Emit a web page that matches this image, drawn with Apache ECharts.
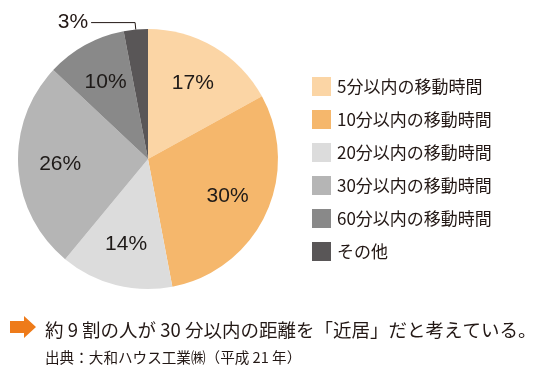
<!DOCTYPE html>
<html>
<head>
<meta charset="utf-8">
<script src="https://cdn.jsdelivr.net/npm/echarts@6/dist/echarts.min.js"></script>
<style>
html,body{margin:0;padding:0;background:#fff;}
#c{width:540px;height:380px;}
</style>
</head>
<body>
<div id="c"></div>
<script>
const categories = ['5分以内の移動時間','10分以内の移動時間','20分以内の移動時間','30分以内の移動時間','60分以内の移動時間','その他'];
const shares = [17, 30, 14, 26, 10, 3];
const sliceColors = ['#fbd5a5','#f5b76c','#dcdcdc','#b5b5b5','#898989','#595657'];
const headline = '約 9 割の人が 30 分以内の距離を「近居」だと考えている。';
const sourceNote = '出典：大和ハウス工業㈱（平成 21 年）';

const FONT = '"Noto Sans CJK JP", "Noto Sans", sans-serif';
const LABEL_FONT = '"Liberation Sans", Arial, sans-serif';
const center = [148, 159];
const R = 130;

const mainData = categories.map((name, i) => {
  const d = { name, value: shares[i], itemStyle: { color: sliceColors[i] } };
  if (i === categories.length - 1) {
    d.label = {
      show: true, position: 'outside', formatter: '{c}%',
      color: '#231815', fontSize: 21, fontFamily: LABEL_FONT, distanceToLabelLine: 3
    };
    d.labelLine = { show: true, length: 7, length2: 44, lineStyle: { color: '#231815', width: 1 } };
  }
  return d;
});
const labelData = categories.map((name, i) => ({
  name, value: shares[i],
  label: { show: i !== categories.length - 1 }
}));

const chart = echarts.init(document.getElementById('c'), null, { renderer: 'canvas' });
chart.setOption({
  animation: false,
  backgroundColor: '#ffffff',
  title: [
    { text: headline, left: 40, top: 316, textStyle: { fontFamily: FONT, fontSize: 18.5, fontWeight: 'normal', color: '#231815' } },
    { text: sourceNote, left: 40, top: 345, textStyle: { fontFamily: FONT, fontSize: 14.6, fontWeight: 'normal', color: '#231815' } }
  ],
  legend: {
    orient: 'vertical', left: 307, top: 72,
    itemWidth: 19, itemHeight: 19, itemGap: 14,
    icon: 'rect',
    data: categories,
    textStyle: { fontFamily: FONT, fontSize: 17, color: '#231815', padding: [0, 0, 0, 1] },
    selectedMode: false
  },
  graphic: [{
    type: 'polygon',
    shape: { points: [[10,321],[24,321],[24,316],[36,327],[24,338],[24,333],[10,333]] },
    style: { fill: '#ee7b1a' }
  }],
  series: [
    {
      type: 'pie', center, radius: [0, R], startAngle: 90, clockwise: true,
      label: { show: false }, labelLine: { show: false },
      emphasis: { disabled: true }, silent: true,
      itemStyle: { borderWidth: 0 },
      data: mainData
    },
    {
      type: 'pie', center, radius: [40, R], startAngle: 90, clockwise: true,
      itemStyle: { color: 'rgba(0,0,0,0)' },
      label: { show: true, position: 'inside', formatter: '{c}%', color: '#1e1a18', fontSize: 21, fontFamily: LABEL_FONT },
      labelLine: { show: false },
      emphasis: { disabled: true }, silent: true,
      data: labelData
    }
  ]
});
</script>
</body>
</html>
